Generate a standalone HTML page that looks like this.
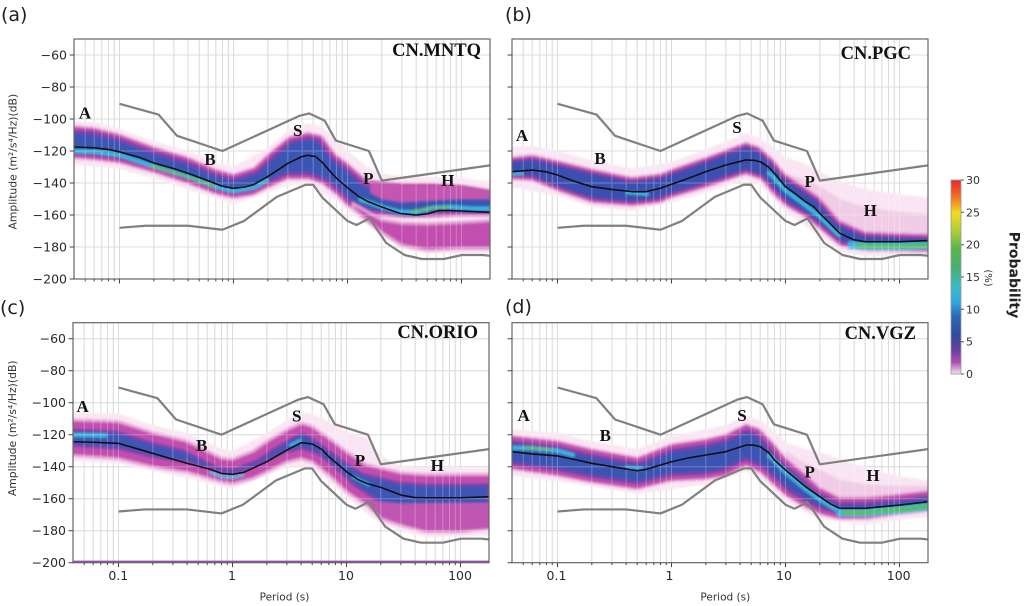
<!DOCTYPE html>
<html><head><meta charset="utf-8"><style>
html,body{margin:0;padding:0;background:#fff;}
svg{display:block;}
.tk{font-family:"DejaVu Sans","Liberation Sans",sans-serif;font-size:12.5px;fill:#2a2a2a;}
.lbl{font-family:"Liberation Serif","DejaVu Serif",serif;font-weight:bold;fill:#111;}
</style></head><body>
<svg width="1024" height="606" viewBox="0 0 1024 606" xmlns="http://www.w3.org/2000/svg">
<defs>
<clipPath id="plotclip"><rect x="0" y="0" width="416" height="240"/></clipPath>
<filter id="soft" x="-5%" y="-10%" width="110%" height="120%"><feGaussianBlur stdDeviation="1.1"/></filter>
<linearGradient id="cbar" x1="0" y1="0" x2="0" y2="1">
<stop offset="0" stop-color="#e8262b"/><stop offset="0.08" stop-color="#f06a25"/><stop offset="0.17" stop-color="#f0dc20"/>
<stop offset="0.27" stop-color="#a8cc38"/><stop offset="0.35" stop-color="#58b848"/><stop offset="0.45" stop-color="#48b070"/>
<stop offset="0.55" stop-color="#3cb8c8"/><stop offset="0.63" stop-color="#30a8e0"/><stop offset="0.70" stop-color="#2a68b8"/>
<stop offset="0.80" stop-color="#3448a0"/><stop offset="0.88" stop-color="#6a40a0"/><stop offset="0.94" stop-color="#b050b0"/>
<stop offset="1" stop-color="#f6e4f0"/></linearGradient>

<path id="grid" vector-effect="non-scaling-stroke" fill="none" d="M-1.398 -60H2.25M-1.398 -80H2.25M-1.398 -100H2.25M-1.398 -120H2.25M-1.398 -140H2.25M-1.398 -160H2.25M-1.398 -180H2.25M-1.301 -200V-50M-1.222 -200V-50M-1.155 -200V-50M-1.097 -200V-50M-1.046 -200V-50M-1 -200V-50M-0.699 -200V-50M-0.523 -200V-50M-0.398 -200V-50M-0.301 -200V-50M-0.222 -200V-50M-0.155 -200V-50M-0.097 -200V-50M-0.046 -200V-50M0 -200V-50M0.301 -200V-50M0.477 -200V-50M0.602 -200V-50M0.699 -200V-50M0.778 -200V-50M0.845 -200V-50M0.903 -200V-50M0.954 -200V-50M1 -200V-50M1.301 -200V-50M1.477 -200V-50M1.602 -200V-50M1.699 -200V-50M1.778 -200V-50M1.845 -200V-50M1.903 -200V-50M1.954 -200V-50M2 -200V-50"/>
<path id="ticks" vector-effect="non-scaling-stroke" fill="none" d="M-1.301 -200V-201.5M-1.222 -200V-201.5M-1.155 -200V-201.5M-1.097 -200V-201.5M-1.046 -200V-201.5M-1 -200V-202.8M-0.699 -200V-201.5M-0.523 -200V-201.5M-0.398 -200V-201.5M-0.301 -200V-201.5M-0.222 -200V-201.5M-0.155 -200V-201.5M-0.097 -200V-201.5M-0.046 -200V-201.5M0 -200V-202.8M0.301 -200V-201.5M0.477 -200V-201.5M0.602 -200V-201.5M0.699 -200V-201.5M0.778 -200V-201.5M0.845 -200V-201.5M0.903 -200V-201.5M0.954 -200V-201.5M1 -200V-202.8M1.301 -200V-201.5M1.477 -200V-201.5M1.602 -200V-201.5M1.699 -200V-201.5M1.778 -200V-201.5M1.845 -200V-201.5M1.903 -200V-201.5M1.954 -200V-201.5M2 -200V-202.8M-1.398 -60H-1.438M-1.398 -80H-1.438M-1.398 -100H-1.438M-1.398 -120H-1.438M-1.398 -140H-1.438M-1.398 -160H-1.438M-1.398 -180H-1.438M-1.398 -200H-1.438"/>
<path id="nhnm" vector-effect="non-scaling-stroke" fill="none" d="M-1 -90.5 -0.658 -97.2 -0.495 -110.5 -0.097 -120 0.580 -98 0.663 -96.5 0.799 -101 0.898 -113.5 1.188 -120 1.301 -138.5 2.25 -129"/>
<path id="nlnm" vector-effect="non-scaling-stroke" fill="none" d="M-1 -168 -0.770 -166.7 -0.398 -166.7 -0.097 -169.2 0.093 -163.7 0.380 -148.65 0.633 -141.1 0.699 -141.1 0.778 -149 1 -163.75 1.079 -166.25 1.193 -162.1 1.340 -177.5 1.500 -185 1.653 -187.5 1.845 -187.5 2.004 -185 2.188 -185 2.25 -185.5"/>

<!-- Panel A -->
<path id="bA" vector-effect="non-scaling-stroke" d="M-1.5 -104 -1.398 -104 -1.222 -105 -1 -109 -0.699 -117 -0.398 -123.5 -0.155 -131 0 -134 0.176 -130 0.301 -121.5 0.477 -111 0.653 -108 0.778 -110 0.903 -122 1 -127 1.176 -138 1.301 -139 1.477 -140 1.699 -140 2 -141 2.25 -144 2.35 -144 2.35 -161 2.25 -161 2 -161 1.699 -162 1.477 -162 1.301 -161 1.176 -161 1 -155 0.903 -148 0.778 -141 0.653 -138 0.477 -138 0.301 -143.5 0.176 -148 0 -150 -0.155 -147.5 -0.398 -141 -0.699 -134 -1 -128 -1.222 -126 -1.398 -125 -1.5 -125Z"/>
<path id="bA3" d="M1.2 -130 2.35 -130 2.35 -150 2 -150 1.699 -151 1.477 -152 1.301 -150 1.2 -146Z"/>
<path id="bA2" vector-effect="non-scaling-stroke" d="M1.05 -153 1.2 -159 1.301 -163 1.477 -165 1.699 -165.5 2 -164.5 2.25 -163.5 2.35 -163.5 2.35 -181 2.25 -181 2 -181 1.699 -182 1.477 -179 1.301 -171 1.176 -164 1.05 -156Z"/>
<path id="fpA" d="M-1.5 -101 -1.222 -102 -1 -106 -0.699 -114 -0.398 -120 -0.155 -127 0 -130 0.301 -118 0.477 -107 0.653 -103 0.778 -105 0.903 -113 1 -120 1.176 -130 1.301 -134 1.5 -136 2 -137 2.35 -140 2.35 -184 1.699 -184 1.477 -181 1.301 -173 1.176 -166 1 -157 0.903 -151 0.653 -141 0.477 -141 0.301 -146 0 -153 -0.398 -144 -0.699 -137 -1 -131 -1.5 -128Z"/>
<path id="mA" vector-effect="non-scaling-stroke" fill="none" d="M-1.5 -117.5 -1.398 -117.5 -1.222 -118 -1.1 -119 -1 -120.5 -0.824 -124 -0.699 -127.5 -0.523 -131 -0.398 -134 -0.301 -136.5 -0.155 -140.5 -0.097 -142 0 -143.3 0.1 -142.5 0.176 -141 0.301 -136 0.477 -127.7 0.6 -123.5 0.653 -122.7 0.72 -123.5 0.778 -127 0.85 -133 0.903 -137 1 -143 1.1 -148.5 1.176 -151.5 1.301 -155 1.46 -159 1.6 -160 1.699 -159.3 1.8 -157.2 1.9 -157.2 2 -157.5 2.25 -158.3 2.35 -158.3"/>
<clipPath id="cbA"><use href="#bA"/></clipPath>

<!-- Panel B -->
<path id="bB" vector-effect="non-scaling-stroke" d="M-1.5 -123.5 -1.398 -123.5 -1.222 -122 -1 -125.6 -0.699 -130.8 -0.347 -136 -0.097 -133.75 0 -131 0.301 -123.5 0.653 -114.2 0.778 -117.3 0.903 -125.6 1 -134 1.176 -142.3 1.301 -148.5 1.477 -163 1.699 -170 2 -171 2.25 -171.5 2.35 -171.5 2.35 -183.5 2.25 -183.5 2 -183 1.699 -182.5 1.477 -179.8 1.301 -169.4 1.176 -162 1 -154.8 0.903 -148.5 0.778 -138.1 0.653 -135 0.301 -143.3 0 -149.6 -0.097 -152.7 -0.347 -154.8 -0.699 -152.7 -1 -145.4 -1.222 -139 -1.398 -138.1 -1.5 -138.1Z"/>
<path id="fpB" d="M-1.5 -118 -1.222 -117 -1 -120 -0.699 -126 -0.347 -131 0 -127 0.301 -119 0.653 -109 0.778 -112 0.903 -118 1 -124 1.176 -128 1.301 -133 1.477 -139 1.699 -144 2 -147 2.35 -150 2.35 -186 1.699 -185.5 1.477 -183 1.301 -173 1 -158 0.778 -141 0.653 -138 0.301 -146 0 -152 -0.347 -157.5 -0.699 -155 -1 -148 -1.5 -141Z"/>
<path id="mpB" d="M1 -134 1.176 -138 1.301 -142 1.477 -150 1.699 -155 2 -158 2.35 -160 2.35 -172 1.699 -171 1.477 -164 1.301 -150 1.176 -143 1 -136Z"/>
<path id="mB" vector-effect="non-scaling-stroke" fill="none" d="M-1.5 -132.9 -1.398 -132.9 -1.222 -131.9 -1.1 -133 -1 -135 -0.85 -139 -0.699 -142.3 -0.523 -144 -0.347 -145.4 -0.222 -145.4 -0.097 -143.3 0 -140.8 0.15 -137 0.301 -132.9 0.477 -128.75 0.653 -125.6 0.72 -125.8 0.778 -126.7 0.85 -130 0.903 -134 1 -142.3 1.1 -147.5 1.176 -151.7 1.25 -155 1.301 -159 1.4 -166 1.477 -171.5 1.6 -175.5 1.699 -176.7 2 -176.7 2.25 -176 2.35 -176"/>
<clipPath id="cbB"><use href="#bB"/></clipPath>

<!-- Panel C -->
<path id="bC" vector-effect="non-scaling-stroke" d="M-1.5 -110 -1.398 -110 -1 -111 -0.699 -118 -0.398 -123.3 -0.097 -133.75 0 -134.5 0.176 -129.6 0.301 -123.3 0.477 -116 0.602 -112 0.699 -114 0.845 -121.25 1 -129.6 1.176 -137.9 1.301 -140 1.477 -143.1 1.699 -144.2 2 -144.2 2.25 -144.2 2.35 -144.2 2.35 -179.6 2.25 -179.6 2 -181.7 1.699 -181.7 1.477 -177.5 1.301 -173.3 1.176 -165 1 -156.7 0.845 -146.25 0.699 -137.9 0.602 -135.8 0.477 -137.9 0.301 -144.2 0.176 -148.3 0 -151.5 -0.097 -150.4 -0.398 -144.2 -0.699 -141 -1 -135.8 -1.398 -133.75 -1.5 -133.75Z"/>
<path id="bC2" d="M1.1 -158 1.301 -162 1.477 -163 2.35 -162.5 2.35 -178 2 -180 1.699 -180 1.477 -175.5 1.301 -171.5 1.176 -163.5Z"/>
<path id="fpC" d="M-1.5 -106 -1 -107 -0.699 -114 -0.398 -119 -0.097 -129 0 -130 0.301 -119 0.477 -111 0.602 -106 0.699 -107 0.845 -112 1 -118 1.176 -122 1.301 -133 1.477 -140 2.35 -141 2.35 -183 1.699 -184 1.477 -180 1.301 -176 1 -159 0.699 -140 0.477 -140 0 -154 -0.398 -147 -1 -138 -1.5 -136Z"/>
<path id="mC" vector-effect="non-scaling-stroke" fill="none" d="M-1.5 -124.4 -1.398 -124.4 -1.2 -124.8 -1 -125.4 -0.85 -128.5 -0.699 -131.7 -0.398 -137.9 -0.2 -141.5 -0.097 -144.2 0 -144.8 0.1 -143.5 0.176 -141 0.301 -136.9 0.477 -129.6 0.602 -125 0.699 -125.8 0.78 -129 0.845 -133.75 1 -143.1 1.1 -148 1.176 -150.4 1.301 -152.9 1.477 -157.7 1.6 -159.3 1.699 -159.4 2 -159.4 2.25 -158.75 2.35 -158.75"/>
<clipPath id="cbC"><use href="#bC"/></clipPath>

<!-- Panel D -->
<path id="bD" vector-effect="non-scaling-stroke" d="M-1.5 -120.2 -1.398 -120.2 -1 -123.3 -0.699 -128.5 -0.301 -133.75 0 -125.4 0.301 -122.3 0.477 -119.2 0.653 -112.9 0.778 -116 0.903 -125.4 1 -133.75 1.176 -144.2 1.301 -152.5 1.477 -158.75 1.699 -158.75 2 -156.7 2.25 -154.6 2.35 -154.6 2.35 -168.1 2.25 -168.1 2 -170.2 1.699 -173.3 1.477 -173.3 1.301 -170.2 1.176 -166 1 -158.75 0.903 -152.5 0.778 -144.2 0.653 -140 0.477 -146.25 0.301 -148.3 0 -149.4 -0.301 -154.6 -0.699 -150.4 -1 -146.25 -1.398 -142.1 -1.5 -142.1Z"/>
<path id="fpD" d="M-1.5 -116 -1 -119 -0.699 -124 -0.301 -129 0 -121 0.477 -114 0.653 -108 0.778 -111 0.903 -118 1 -125 1.176 -129 1.301 -131 1.477 -135 1.699 -141 2 -146 2.35 -150 2.35 -171 2 -173 1.699 -176 1.301 -173 1 -162 0.778 -147 0.653 -143 0.301 -151 -0.301 -157 -1 -149 -1.5 -145Z"/>
<path id="mpD" d="M1 -130 1.176 -138 1.301 -142 1.477 -148 1.699 -151 2 -152 2.35 -152 2.35 -160 2 -160 1.699 -162 1.477 -162 1.301 -155 1 -136Z"/>
<path id="mD" vector-effect="non-scaling-stroke" fill="none" d="M-1.5 -130.6 -1.398 -130.6 -1.222 -132 -1 -133.3 -0.85 -135.5 -0.699 -137.9 -0.523 -140 -0.301 -142.5 -0.222 -141.7 -0.1 -139 0 -136.9 0.15 -134.5 0.301 -132.7 0.477 -130.6 0.653 -126.5 0.72 -126.5 0.778 -127.5 0.85 -131 0.903 -135.8 1 -142.1 1.176 -152.5 1.301 -158.75 1.4 -163.5 1.477 -166 1.699 -166 2 -164 2.25 -161.9 2.35 -161.9"/>
<clipPath id="cbD"><use href="#bD"/></clipPath>
</defs>

<rect width="1024" height="606" fill="#fff"/>

<!-- ================= PANEL A ================= -->
<g transform="translate(74,39)">
 <g clip-path="url(#plotclip)">
  <g transform="matrix(114 0 0 -1.6 159.5 -80)"><use href="#grid" stroke="#cfcfcf" stroke-width="1"/></g>
  <g filter="url(#soft)">
   <g transform="matrix(114 0 0 -1.6 159.5 -80)">
    <use href="#fpA" fill="#f9e5f3"/>
    <g clip-path="url(#cbA)">
     <use href="#bA" fill="#3b54b4"/>
     <use href="#bA" fill="none" stroke="#7544aa" stroke-width="16"/>
     <use href="#bA" fill="none" stroke="#c54cad" stroke-width="9"/>
     <use href="#bA" fill="none" stroke="#eba9da" stroke-width="3"/>
     <use href="#bA3" fill="#c454b0"/>
    </g>
    <use href="#bA2" fill="#c24fb0" stroke="#e4a0d4" stroke-width="3"/>
    <path vector-effect="non-scaling-stroke" fill="none" stroke="#34b8e0" stroke-width="4" d="M-1.5 -120 -1.222 -120.5 -1 -122.5 -0.699 -129.5 -0.398 -136 -0.155 -142.3 0 -145 0.176 -142.8 0.301 -138"/>
    <path vector-effect="non-scaling-stroke" fill="none" stroke="#62c04a" stroke-width="2.2" d="M-0.72 -129.2 -0.398 -136 -0.155 -142.3"/>
    <path vector-effect="non-scaling-stroke" fill="none" stroke="#3a52b2" stroke-width="9" d="M1.1 -150 1.301 -155 1.46 -158 1.6 -158.3 1.75 -156 1.9 -155.5 2.1 -156 2.35 -156"/>
    <path vector-effect="non-scaling-stroke" fill="none" stroke="#34b8e0" stroke-width="4" d="M1.1 -150 1.301 -155 1.46 -158 1.6 -158.3 1.75 -155.5 1.9 -155 2.1 -156 2.35 -156"/>
    <path vector-effect="non-scaling-stroke" fill="none" stroke="#62c04a" stroke-width="2.5" d="M1.55 -158 1.7 -156 1.9 -155"/>
   </g>
  </g>
  <g transform="matrix(114 0 0 -1.6 159.5 -80)">
   <use href="#grid" stroke="#ffffff" stroke-opacity="0.28" stroke-width="1"/>
   <use href="#mA" stroke="#111" stroke-width="1.6" stroke-linejoin="round"/>
   <use href="#nhnm" stroke="#808080" stroke-width="2.2" stroke-linejoin="round"/>
   <use href="#nlnm" stroke="#808080" stroke-width="2.2" stroke-linejoin="round"/>
  </g>
 </g>
 <rect x="0" y="0" width="416" height="240" fill="none" stroke="#666" stroke-width="1.2"/>
 <g transform="matrix(114 0 0 -1.6 159.5 -80)"><use href="#ticks" stroke="#444" stroke-width="1"/></g>
</g>

<!-- ================= PANEL B ================= -->
<g transform="translate(512,39)">
 <g clip-path="url(#plotclip)">
  <g transform="matrix(114 0 0 -1.6 159.5 -80)"><use href="#grid" stroke="#cfcfcf" stroke-width="1"/></g>
  <g filter="url(#soft)">
   <g transform="matrix(114 0 0 -1.6 159.5 -80)">
    <use href="#fpB" fill="#f9e5f3"/>
    <use href="#mpB" fill="#ecbedf" fill-opacity="0.65"/>
    <g clip-path="url(#cbB)">
     <use href="#bB" fill="#3a50b0"/>
     <use href="#bB" fill="none" stroke="#6244a8" stroke-width="13"/>
     <use href="#bB" fill="none" stroke="#c04aab" stroke-width="8"/>
     <use href="#bB" fill="none" stroke="#eba9da" stroke-width="3"/>
    </g>
    <path vector-effect="non-scaling-stroke" fill="none" stroke="#34b8e0" stroke-width="3" d="M-1.5 -134.5 -1.3 -134"/>
    <path vector-effect="non-scaling-stroke" fill="none" stroke="#34b8e0" stroke-width="3" d="M-0.4 -146 -0.2 -147"/>
    <path vector-effect="non-scaling-stroke" fill="none" stroke="#34b8e0" stroke-width="4" d="M0.85 -133 1 -144.5 1.176 -154 1.301 -161 1.477 -173"/>
    <path vector-effect="non-scaling-stroke" fill="none" stroke="#34b8e0" stroke-width="8" d="M1.55 -178.8 1.7 -179.5 2 -179.5 2.35 -179"/>
    <path vector-effect="non-scaling-stroke" fill="none" stroke="#5cbf44" stroke-width="4" d="M1.62 -179.2 1.7 -179.5 2 -179.5 2.35 -179"/>
   </g>
  </g>
  <g transform="matrix(114 0 0 -1.6 159.5 -80)">
   <use href="#grid" stroke="#ffffff" stroke-opacity="0.28" stroke-width="1"/>
   <use href="#mB" stroke="#111" stroke-width="1.6" stroke-linejoin="round"/>
   <use href="#nhnm" stroke="#808080" stroke-width="2.2" stroke-linejoin="round"/>
   <use href="#nlnm" stroke="#808080" stroke-width="2.2" stroke-linejoin="round"/>
  </g>
 </g>
 <rect x="0" y="0" width="416" height="240" fill="none" stroke="#666" stroke-width="1.2"/>
 <g transform="matrix(114 0 0 -1.6 159.5 -80)"><use href="#ticks" stroke="#444" stroke-width="1"/></g>
</g>

<!-- ================= PANEL C ================= -->
<g transform="translate(73,322.7)">
 <g clip-path="url(#plotclip)">
  <g transform="matrix(114 0 0 -1.6 159.5 -80)"><use href="#grid" stroke="#cfcfcf" stroke-width="1"/></g>
  <g filter="url(#soft)">
   <g transform="matrix(114 0 0 -1.6 159.5 -80)">
    <use href="#fpC" fill="#f9e5f3"/>
    <g clip-path="url(#cbC)">
     <use href="#bC" fill="#3d55b5"/>
     <use href="#bC" fill="none" stroke="#7844ab" stroke-width="26"/>
     <use href="#bC" fill="none" stroke="#c34eae" stroke-width="20"/>
     <use href="#bC" fill="none" stroke="#eba9da" stroke-width="5"/>
     <use href="#bC2" fill="#c056b2"/>
    </g>
    <path vector-effect="non-scaling-stroke" fill="none" stroke="#34b8e0" stroke-width="4" d="M-1.5 -120 -1.1 -120.5"/>
    <path vector-effect="non-scaling-stroke" fill="none" stroke="#34b8e0" stroke-width="3" d="M-0.2 -143.5 -0.097 -146 0 -146.5 0.1 -145"/>
    <path vector-effect="non-scaling-stroke" fill="none" stroke="#34b8e0" stroke-width="3" d="M0.5 -127 0.6 -123.5"/>
    <path vector-effect="non-scaling-stroke" fill="none" stroke="#34b8e0" stroke-width="3" d="M1.05 -146 1.2 -151.5"/>
   </g>
  </g>
  <g transform="matrix(114 0 0 -1.6 159.5 -80)">
   <use href="#grid" stroke="#ffffff" stroke-opacity="0.28" stroke-width="1"/>
   <path vector-effect="non-scaling-stroke" d="M-1.398 -199.3H2.25" stroke="#9050a8" stroke-width="2"/>
   <use href="#mC" stroke="#111" stroke-width="1.6" stroke-linejoin="round"/>
   <use href="#nhnm" stroke="#808080" stroke-width="2.2" stroke-linejoin="round"/>
   <use href="#nlnm" stroke="#808080" stroke-width="2.2" stroke-linejoin="round"/>
  </g>
 </g>
 <rect x="0" y="0" width="416" height="240" fill="none" stroke="#666" stroke-width="1.2"/>
 <g transform="matrix(114 0 0 -1.6 159.5 -80)"><use href="#ticks" stroke="#444" stroke-width="1"/></g>
</g>

<!-- ================= PANEL D ================= -->
<g transform="translate(512,322.7)">
 <g clip-path="url(#plotclip)">
  <g transform="matrix(114 0 0 -1.6 159.5 -80)"><use href="#grid" stroke="#cfcfcf" stroke-width="1"/></g>
  <g filter="url(#soft)">
   <g transform="matrix(114 0 0 -1.6 159.5 -80)">
    <use href="#fpD" fill="#f9e5f3"/>
    <use href="#mpD" fill="#ecbedf" fill-opacity="0.65"/>
    <g clip-path="url(#cbD)">
     <use href="#bD" fill="#3b52b2"/>
     <use href="#bD" fill="none" stroke="#7044aa" stroke-width="18"/>
     <use href="#bD" fill="none" stroke="#c24cad" stroke-width="11"/>
     <use href="#bD" fill="none" stroke="#eba9da" stroke-width="3"/>
    </g>
    <path vector-effect="non-scaling-stroke" fill="none" stroke="#34b8e0" stroke-width="4" d="M-1.5 -128 -1.222 -128.5 -1 -130 -0.85 -133"/>
    <path vector-effect="non-scaling-stroke" fill="none" stroke="#62c04a" stroke-width="2.2" d="M-1.3 -128.2 -1.05 -129.3"/>
    <path vector-effect="non-scaling-stroke" fill="none" stroke="#34b8e0" stroke-width="3" d="M-0.4 -140.5 -0.25 -141.2"/>
    <path vector-effect="non-scaling-stroke" fill="none" stroke="#34b8e0" stroke-width="4" d="M0.85 -132.5 1 -143.5 1.176 -154 1.301 -160.5 1.45 -167"/>
    <path vector-effect="non-scaling-stroke" fill="none" stroke="#34b8e0" stroke-width="8" d="M1.45 -168.5 1.699 -168.8 2 -166.8 2.35 -164.3"/>
    <path vector-effect="non-scaling-stroke" fill="none" stroke="#5cbf44" stroke-width="4" d="M1.5 -168.6 1.699 -168.8 2 -166.8 2.35 -164.3"/>
   </g>
  </g>
  <g transform="matrix(114 0 0 -1.6 159.5 -80)">
   <use href="#grid" stroke="#ffffff" stroke-opacity="0.28" stroke-width="1"/>
   <use href="#mD" stroke="#111" stroke-width="1.6" stroke-linejoin="round"/>
   <use href="#nhnm" stroke="#808080" stroke-width="2.2" stroke-linejoin="round"/>
   <use href="#nlnm" stroke="#808080" stroke-width="2.2" stroke-linejoin="round"/>
  </g>
 </g>
 <rect x="0" y="0" width="416" height="240" fill="none" stroke="#666" stroke-width="1.2"/>
 <g transform="matrix(114 0 0 -1.6 159.5 -80)"><use href="#ticks" stroke="#444" stroke-width="1"/></g>
</g>

<!-- Panel letters -->
<g font-family="DejaVu Sans, Liberation Sans, sans-serif" font-size="19" fill="#222">
 <text x="1" y="21">(a)</text>
 <text x="505" y="21">(b)</text>
 <text x="0" y="314">(c)</text>
 <text x="505" y="313">(d)</text>
</g>

<!-- Y tick labels A -->
<g class="tk" text-anchor="end">
 <text x="67" y="59.5">−60</text><text x="67" y="91.5">−80</text><text x="67" y="123.5">−100</text>
 <text x="67" y="155.5">−120</text><text x="67" y="187.5">−140</text><text x="67" y="219.5">−160</text>
 <text x="67" y="251.5">−180</text><text x="67" y="283.5">−200</text>
</g>
<!-- Y tick labels C -->
<g class="tk" text-anchor="end">
 <text x="66" y="343.2">−60</text><text x="66" y="375.2">−80</text><text x="66" y="407.2">−100</text>
 <text x="66" y="439.2">−120</text><text x="66" y="471.2">−140</text><text x="66" y="503.2">−160</text>
 <text x="66" y="535.2">−180</text><text x="66" y="567.2">−200</text>
</g>
<!-- X tick labels -->
<g class="tk" text-anchor="middle">
 <text x="118.3" y="580">0.1</text><text x="232" y="580">1</text><text x="346" y="580">10</text><text x="460" y="580">100</text>
 <text x="556.5" y="580">0.1</text><text x="669.5" y="580">1</text><text x="784" y="580">10</text><text x="898.7" y="580">100</text>
</g>
<g font-family="DejaVu Sans, Liberation Sans, sans-serif" font-size="10.5" fill="#333" text-anchor="middle">
 <text x="284.5" y="600.5">Period (s)</text>
 <text x="725.3" y="600.5">Period (s)</text>
</g>
<!-- Y axis labels -->
<g font-family="DejaVu Sans, Liberation Sans, sans-serif" font-size="10.8" fill="#333" text-anchor="middle">
 <text transform="translate(16.5,161.7) rotate(-90)">Amplitude (m²/s⁴/Hz)(dB)</text>
 <text transform="translate(16,428.3) rotate(-90)">Amplitude (m²/s⁴/Hz)(dB)</text>
</g>

<!-- Station labels -->
<g class="lbl" font-size="18.5" text-anchor="end">
 <text x="481" y="56">CN.MNTQ</text>
 <text x="911" y="59">CN.PGC</text>
 <text x="478" y="338">CN.ORIO</text>
 <text x="916" y="339">CN.VGZ</text>
</g>
<!-- Region letters -->
<g class="lbl" font-size="17" text-anchor="middle">
 <text x="85" y="118.5">A</text><text x="210" y="165">B</text><text x="297.7" y="136">S</text><text x="368.3" y="184">P</text><text x="447.7" y="186">H</text>
 <text x="522" y="141">A</text><text x="600" y="164">B</text><text x="737" y="133">S</text><text x="809.7" y="187">P</text><text x="870.3" y="216">H</text>
 <text x="82.7" y="412">A</text><text x="201.7" y="451">B</text><text x="296.7" y="421.7">S</text><text x="360" y="466">P</text><text x="437.3" y="471">H</text>
 <text x="523.7" y="421">A</text><text x="605.3" y="441">B</text><text x="742" y="421">S</text><text x="809.7" y="477.7">P</text><text x="873" y="481">H</text>
</g>

<!-- Colorbar -->
<rect x="951" y="180" width="10" height="194" fill="url(#cbar)" stroke="#999" stroke-width="0.8"/>
<g stroke="#555" stroke-width="1">
 <path d="M961 180H964M961 212.3H964M961 244.7H964M961 277H964M961 309.3H964M961 341.7H964M961 374H964"/>
</g>
<g font-family="DejaVu Sans, Liberation Sans, sans-serif" font-size="11" fill="#333">
 <text x="966" y="184">30</text><text x="966" y="216.3">25</text><text x="966" y="248.7">20</text>
 <text x="966" y="281">15</text><text x="966" y="313.3">10</text><text x="966" y="345.7">5</text><text x="966" y="378">0</text>
</g>
<text transform="translate(985,278) rotate(90)" text-anchor="middle" font-family="DejaVu Sans, Liberation Sans, sans-serif" font-size="10" fill="#333">(%)</text>
<text transform="translate(1009.5,275) rotate(90)" text-anchor="middle" font-family="DejaVu Sans, Liberation Sans, sans-serif" font-size="14" font-weight="bold" fill="#222">Probability</text>
</svg>
</body></html>
